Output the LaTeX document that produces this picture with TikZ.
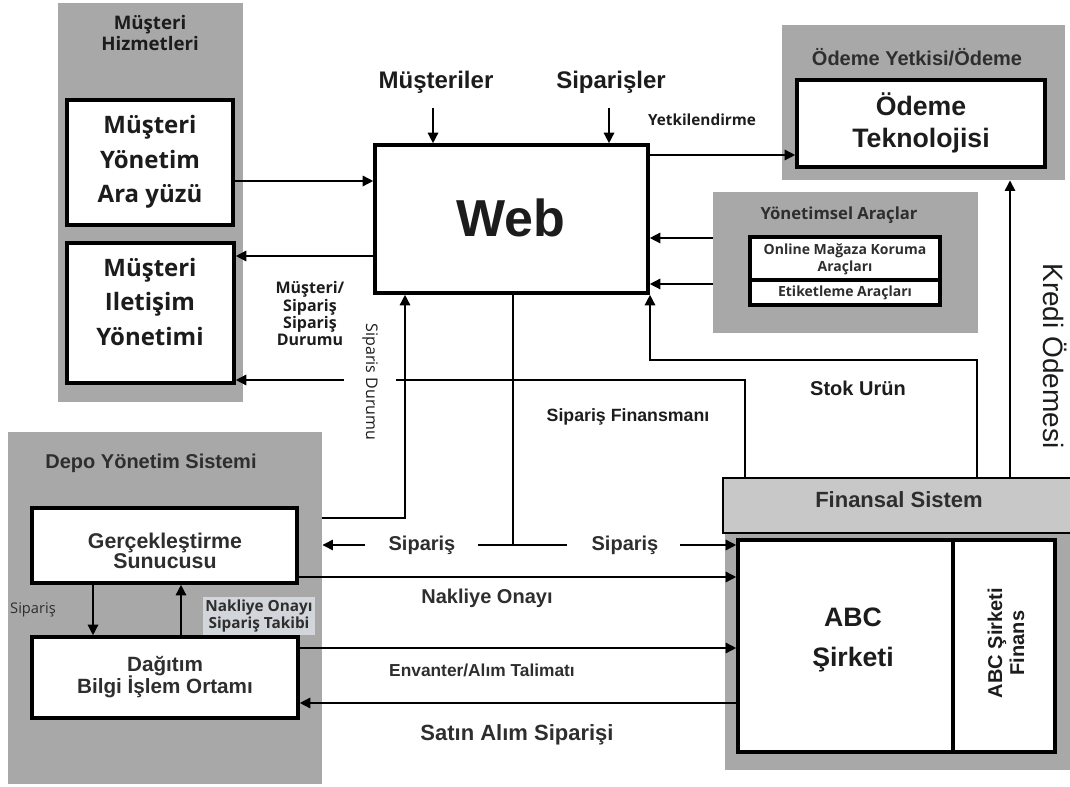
\documentclass[tikz,border=0pt]{standalone}
\usepackage{fontspec}
\setmainfont{Liberation Sans}
\newfontfamily\hum{Open Sans}
\usetikzlibrary{arrows.meta,fit}
\definecolor{zonegray}{HTML}{A8A8A8}
\definecolor{bandgray}{HTML}{C8C8C8}
\definecolor{ink}{HTML}{1C1C1C}
\definecolor{softink}{HTML}{2E2E2E}
\definecolor{tagbg}{HTML}{D2D5D9}

\tikzset{
  zone/.style={fill=zonegray, draw=none, inner sep=0pt},
  band/.style={fill=bandgray, draw=black, line width=2.2pt, inner sep=0pt},
  box/.style={fill=white, draw=black, line width=2.4pt, inner sep=0pt},
  ln/.style={line width=2pt, draw=black},
  arr/.style={ln, -{Triangle[length=8pt,width=7.5pt]}},
  txt/.style={text=ink, inner sep=1pt, align=center, font=\bfseries},
  htxt/.style={text=ink, inner sep=1pt, align=center, font=\hum\bfseries},
}

\begin{document}
\begin{tikzpicture}[x=0.75pt,y=-0.75pt]
\useasboundingbox (0,0) rectangle (1070,787);

% ---------- shaded zones ----------
\node[zone, fit={(58,3)(243,402)}] (mh) {};
\node[zone, fit={(782,25)(1065,180)}] (op) {};
\node[zone, fit={(713,192)(978,333)}] (ya) {};
\node[zone, fit={(8,432)(322,784)}] (depo) {};
\node[zone, fit={(725,533)(1070,770)}] (abcz) {};
\node[band, fit={(723,478)(1074,533)}] (fs) {};

% ---------- boxes ----------
\node[box, fit={(67,100)(233,225)}] (mya) {};
\node[box, fit={(67,243)(234,383)}] (miy) {};
\node[box, fit={(375,145)(648,293)}] (web) {};
\node[box, fit={(797,80)(1045,167)}] (ot) {};
\node[box, fit={(750,237)(940,280)}] (omk) {};
\node[box, fit={(750,280)(940,305)}] (et) {};
\node[box, fit={(32,508)(297,583)}] (gs) {};
\node[box, fit={(32,637)(298,718)}] (db) {};
\node[box, fit={(738,540)(953,752)}] (abc) {};
\node[box, fit={(953,540)(1055,752)}] (fin) {};

% ---------- reference levels ----------
\coordinate (h155) at (0,155);
\coordinate (h181) at (0,181);
\coordinate (h238) at (0,238);
\coordinate (h256) at (0,256);
\coordinate (h284) at (0,284);
\coordinate (h360) at (0,360);
\coordinate (h380) at (0,380);
\coordinate (h518) at (0,518);
\coordinate (h545) at (0,545);
\coordinate (h577) at (0,577);
\coordinate (h648) at (0,648);
\coordinate (h703) at (0,703);
\coordinate (v93) at (93,0);
\coordinate (v181) at (181,0);
\coordinate (v405) at (405,0);
\coordinate (v513) at (513,0);
\coordinate (v650) at (650,0);
\coordinate (v745) at (745,0);
\coordinate (v977) at (977,0);
\coordinate (v1010) at (1010,0);
\coordinate (musin) at (433,108);
\coordinate (sipin) at (609,108);
\coordinate (tleft) at (478,545);
\coordinate (tright) at (567,545);
\coordinate (lstart) at (365,545);
\coordinate (rstart) at (680,545);

% ---------- connectors ----------
\draw[arr] (musin) -- (musin |- web.north);
\draw[arr] (sipin) -- (sipin |- web.north);
\draw[arr] (mya.east |- h181) -- (web.west |- h181);
\draw[arr] (web.west |- h256) -- (miy.east |- h256);
\draw[arr] (web.east |- h155) -- (ot.west |- h155);
\draw[arr] (ya.west |- h238) -- (web.east |- h238);
\draw[arr] (ya.west |- h284) -- (web.east |- h284);
\draw[arr] (fs.north -| v1010) -- (op.south -| v1010);
\draw[arr] (fs.north -| v977) |- (v650 |- h360) -- (v650 |- web.south);
\draw[arr] (fs.north -| v745) |- (miy.east |- h380);
\draw[arr] (depo.east |- h518) -| (v405 |- web.south);
\draw[ln] (v513 |- web.south) -- (v513 |- h545) coordinate (tj);
\draw[ln] (tleft) -- (tright);
\draw[arr] (lstart) -- (depo.east |- h545);
\draw[arr] (rstart) -- (abc.west |- h545);
\draw[arr] (gs.east |- h577) -- (abc.west |- h577);
\draw[arr] (db.east |- h648) -- (abc.west |- h648);
\draw[arr] (abc.west |- h703) -- (db.east |- h703);
\draw[arr] (gs.south -| v93) -- (db.north -| v93);
\draw[arr] (db.north -| v181) -- (gs.south -| v181);

% ---------- texts ----------
\node[htxt, font=\hum\bfseries\fontsize{14}{16}\selectfont] (t-mh) at (150,33) {Müşteri\\Hizmetleri};
\node[htxt, font=\hum\bfseries\fontsize{18}{26}\selectfont] (t-mya) at (150,162) {Müşteri\\Yönetim\\Ara yüzü};
\node[htxt, font=\hum\bfseries\fontsize{18}{26}\selectfont] (t-miy) at (150,302) {Müşteri\\Iletişim\\Yönetimi};
\node[txt, font=\bfseries\fontsize{18}{20}\selectfont] (t-must) at (436,82) {Müşteriler};
\node[txt, font=\bfseries\fontsize{18}{20}\selectfont] (t-sips) at (611,82) {Siparişler};
\node[htxt, font=\hum\bfseries\fontsize{11.5}{13}\selectfont] (t-yetk) at (702,120) {Yetkilendirme};
\node[txt, font=\bfseries\fontsize{39}{44}\selectfont] (t-web) at (511,218) {Web};
\node[txt, text=softink, font=\bfseries\fontsize{15}{17}\selectfont] (t-op) at (917,57) {Ödeme Yetkisi/Ödeme};
\node[txt, font=\bfseries\fontsize{20}{24}\selectfont] (t-ot) at (921,123) {Ödeme\\Teknolojisi};
\node[htxt, text=softink, font=\hum\bfseries\fontsize{12.5}{14}\selectfont] (t-ya) at (839,215) {Yönetimsel Araçlar};
\node[htxt, text=softink, font=\hum\bfseries\fontsize{10.5}{13}\selectfont] (t-omk) at (845,259) {Online Mağaza Koruma\\Araçları};
\node[htxt, text=softink, font=\hum\bfseries\fontsize{10.5}{12}\selectfont] (t-et) at (845,293) {Etiketleme Araçları};
\node[text=ink, inner sep=1pt, rotate=-90, font=\fontsize{21}{24}\selectfont] (t-kredi) at (1055,356) {Kredi Ödemesi};
\node[txt, font=\bfseries\fontsize{15}{17}\selectfont] (t-stok) at (858,388) {Stok Urün};
\node[txt, font=\bfseries\fontsize{13.3}{15}\selectfont] (t-sfin) at (628,417) {Sipariş Finansmanı};
\node[htxt, font=\hum\bfseries\fontsize{12}{13}\selectfont] (t-msd) at (310,314) {Müşteri/\\Sipariş\\Sipariş\\Durumu};
\node[text=ink, fill=white, inner xsep=1pt, inner ysep=14pt, rotate=-90, font=\hum\fontsize{12}{14}\selectfont] (t-sdur) at (370,382) {Siparis Durumu};
\node[txt, text=softink, font=\bfseries\fontsize{15}{17}\selectfont] (t-depo) at (151,463) {Depo Yönetim Sistemi};
\node[txt, text=softink, font=\bfseries\fontsize{16}{13.5}\selectfont] (t-gs) at (165,551) {Gerçekleştirme\\Sunucusu};
\node[txt, text=softink, font=\bfseries\fontsize{15.5}{17}\selectfont] (t-db) at (165,677) {Dağıtım\\Bilgi İşlem Ortamı};
\node[htxt, text=softink, font=\hum\fontsize{11}{13}\selectfont] (t-sipl) at (33,610) {Sipariş};
\node[htxt, text=softink, fill=tagbg, inner sep=2pt, font=\hum\bfseries\fontsize{11.5}{13}\selectfont] (t-nst) at (259,616) {Nakliye Onayı\\Sipariş Takibi};
\node[txt, text=softink, font=\bfseries\fontsize{15}{17}\selectfont] (t-sip1) at (422,545) {Sipariş};
\node[txt, text=softink, font=\bfseries\fontsize{15}{17}\selectfont] (t-sip2) at (625,545) {Sipariş};
\node[txt, text=softink, font=\bfseries\fontsize{15}{17}\selectfont] (t-nak) at (487,598) {Nakliye Onayı};
\node[txt, text=softink, font=\bfseries\fontsize{13}{15}\selectfont] (t-env) at (482,670) {Envanter/Alım Talimatı};
\node[txt, text=softink, font=\bfseries\fontsize{16.5}{19}\selectfont] (t-sat) at (517,735) {Satın Alım Siparişi};
\node[txt, text=softink, font=\bfseries\fontsize{16.5}{19}\selectfont] (t-fs) at (899,500) {Finansal Sistem};
\node[txt, font=\bfseries\fontsize{20}{30}\selectfont] (t-abc) at (853,640) {ABC\\Şirketi};
\node[txt, rotate=90, font=\bfseries\fontsize{15}{16.5}\selectfont] (t-fin) at (1006,643) {ABC Şirketi\\Finans};
\end{tikzpicture}
\end{document}
